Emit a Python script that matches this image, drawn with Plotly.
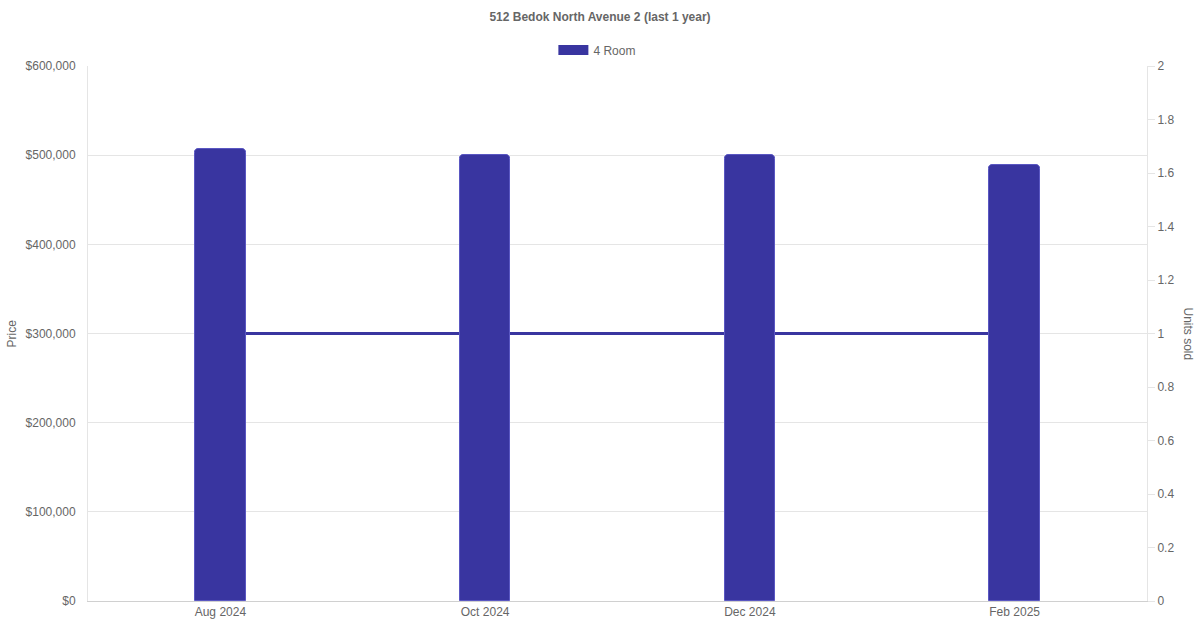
import plotly.graph_objects as go

# data
months = ["Aug 2024", "Oct 2024", "Dec 2024", "Feb 2025"]
prices = [507000, 500000, 500000, 489000]
units_sold = [1, 1, 1, 1]

price_ticks = [0, 100000, 200000, 300000, 400000, 500000, 600000]
price_labels = ["$0", "$100,000", "$200,000", "$300,000", "$400,000", "$500,000", "$600,000"]
unit_ticks = [0, 0.2, 0.4, 0.6, 0.8, 1, 1.2, 1.4, 1.6, 1.8, 2]
unit_labels = ["0", "0.2", "0.4", "0.6", "0.8", "1", "1.2", "1.4", "1.6", "1.8", "2"]

BAR = "#3935a0"
GRID = "#e5e5e5"
TEXT = "#666666"

fig = go.Figure()

# line on the primary (right) axis so the bars, on the overlay axis, sit on top
fig.add_trace(go.Scatter(
    x=months, y=units_sold, mode="lines", name="Units sold",
    line=dict(color=BAR, width=3), showlegend=False, yaxis="y",
))
fig.add_trace(go.Bar(
    x=months, y=prices, name="4 Room", yaxis="y2", showlegend=False,
    marker=dict(color=BAR, line=dict(color="#5a57c2", width=1), cornerradius=4),
    width=0.19,
))
# legend-only entry, drawn as a wide box like the reference
fig.add_trace(go.Scatter(
    x=[None], y=[None], mode="lines", name="4 Room",
    line=dict(color=BAR, width=12), yaxis="y",
))

fig.update_layout(
    width=1200, height=630,
    margin=dict(l=88, r=53, t=66, b=29),
    paper_bgcolor="white", plot_bgcolor="white",
    font=dict(family="Liberation Sans, Arial, sans-serif", size=12, color=TEXT),
    title=dict(text="<b>512 Bedok North Avenue 2 (last 1 year)</b>", x=0.5, xanchor="center",
               y=0.973, yanchor="middle", font=dict(size=12, color=TEXT)),
    legend=dict(orientation="h", x=0.481, xanchor="center", y=1.03, yanchor="middle",
                font=dict(size=12, color=TEXT), itemwidth=30),
    bargap=0,
    xaxis=dict(
        type="category", showgrid=False, showline=True, linecolor="#d0d0d0",
        ticks="", tickfont=dict(size=12, color=TEXT), zeroline=False,
    ),
    yaxis=dict(
        side="right", range=[0, 2], tickvals=unit_ticks, ticktext=unit_labels,
        showgrid=False, showline=True, linecolor=GRID, ticks="outside",
        ticklen=7, tickcolor=GRID, zeroline=False, tickfont=dict(size=12, color=TEXT),
    ),
    yaxis2=dict(
        side="left", overlaying="y", range=[0, 600000], tickvals=price_ticks,
        ticktext=price_labels, showgrid=True, gridcolor=GRID, showline=True,
        linecolor=GRID, ticks="", zeroline=False, tickfont=dict(size=12, color=TEXT),
        ticklabelstandoff=9,
    ),
    annotations=[
        dict(text="Price", xref="paper", yref="paper", x=0, xshift=-77, y=0.5,
             textangle=-90, showarrow=False, font=dict(size=12, color=TEXT),
             xanchor="center", yanchor="middle"),
        dict(text="Units sold", xref="paper", yref="paper", x=1.0, xshift=41, y=0.5,
             textangle=90, showarrow=False, font=dict(size=12, color=TEXT),
             xanchor="center", yanchor="middle"),
    ],
)

# drop the default page margin so the figure sits at the window's top-left corner
fig.write_html("out.html", config={"displayModeBar": False},
               post_script="document.body.style.margin='0px';")
